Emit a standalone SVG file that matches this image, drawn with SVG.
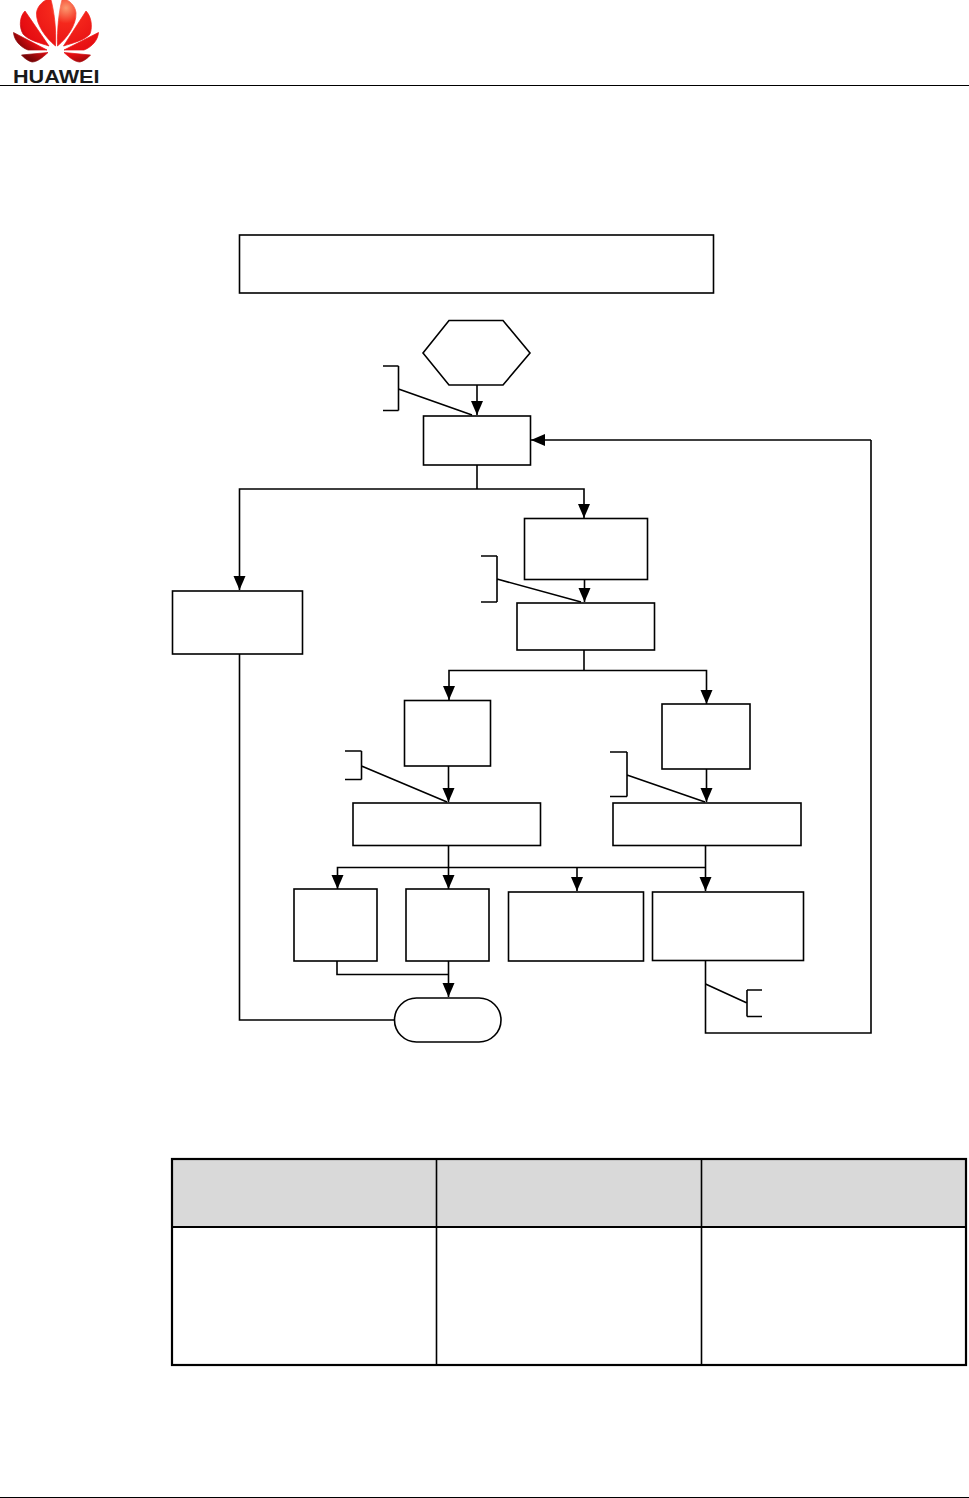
<svg xmlns="http://www.w3.org/2000/svg" width="969" height="1498" viewBox="0 0 969 1498">
<style>
.n{fill:#fff;stroke:#000;stroke-width:1.6}
.c{fill:none;stroke:#000;stroke-width:1.6}
.t{fill:none;stroke:#000;stroke-width:2.2}
.g{fill:none;stroke:#000;stroke-width:1}
.p{fill:url(#red);stroke:url(#red);stroke-width:.7}
</style>
<defs>
<marker id="a" markerUnits="userSpaceOnUse" markerWidth="16" markerHeight="14" refX="14" refY="6" orient="auto"><path d="M0,0L14,6L0,12Z" fill="#000"/></marker>
<radialGradient id="red" gradientUnits="userSpaceOnUse" cx="66" cy="8" r="62"><stop offset="0" stop-color="#fb9a70"/><stop offset=".25" stop-color="#f5281c"/><stop offset=".75" stop-color="#e60d12"/><stop offset="1" stop-color="#7a0406"/></radialGradient>
</defs>
<g id="logo">
<path class="p" d="M55.500,46C46,38 36,25 36.500,13C37,7 42,2 46,0L51,0C54,10 56.500,30 55.500,46Z"/>
<path class="p" d="M57.500,46C67,38 76.500,25 76,13C75.500,7 71,2 67,0L62,0C59,10 57,30 57.500,46Z"/>
<path class="p" d="M49,46L25,11C20,16 18.500,26 23,34C28,40 40,43 49,46Z"/>
<path class="p" d="M63.500,46L86,11C91,16 93,26 90,34C85,40 73,43 63.500,46Z"/>
<path class="p" d="M13.500,32.500L47,50L28,50C20,47 14,40 13.500,32.500Z"/>
<path class="p" d="M98.500,32.500L64,50L84,50C92,47 98,40 98.500,32.500Z"/>
<path class="p" d="M21.500,55L48,52.500C42,58 37,62 32,62C28,61 24,58 21.500,55Z"/>
<path class="p" d="M90.500,55L64,52.500C70,58 75,62 80,62C84,61 88,58 90.500,55Z"/>
<text x="13" y="83.200" font-family="Liberation Sans, Arial, sans-serif" font-weight="700" font-size="17.500" textLength="86.500" lengthAdjust="spacingAndGlyphs" fill="#1a1a1a">HUAWEI</text>
</g>
<path id="header-rule" class="g" d="M0,85.500H969"/>
<path id="footer-rule" class="g" d="M0,1497.500H969"/>
<g id="connectors">
<path class="c" marker-end="url(#a)" d="M477,385V415"/>
<path class="c" marker-end="url(#a)" d="M871,440H531"/>
<path class="c" d="M477,465V489"/>
<path class="c" marker-end="url(#a)" d="M477,489H239.500V590"/>
<path class="c" marker-end="url(#a)" d="M477,489H584V518"/>
<path class="c" marker-end="url(#a)" d="M584.500,579V602"/>
<path class="c" d="M584,650V670.500"/>
<path class="c" marker-end="url(#a)" d="M584,670.500H449V700"/>
<path class="c" marker-end="url(#a)" d="M584,670.500H706.500V704"/>
<path class="c" marker-end="url(#a)" d="M448.500,766V802"/>
<path class="c" marker-end="url(#a)" d="M706.500,769V802"/>
<path class="c" marker-end="url(#a)" d="M448.500,846V889"/>
<path class="c" marker-end="url(#a)" d="M705.500,846V891"/>
<path class="c" marker-end="url(#a)" d="M705.500,867.500H337.500V889"/>
<path class="c" marker-end="url(#a)" d="M577,867.500V891"/>
<path class="c" marker-end="url(#a)" d="M448.500,961V997"/>
<path class="c" d="M337,961V974.500H448"/>
<path class="c" d="M239.500,654V1020H395"/>
<path class="c" d="M705.500,961V1033H871V440"/>
<path class="c" d="M398.500,366V410.500M383,366H398.500M383,410.500H398.500M398.500,389L472,415"/>
<path class="c" d="M497,556V602M481,556H497M481,602H497M497,579L581,602"/>
<path class="c" d="M361.500,751V779.500M345,751H361.500M345,779.500H361.500M361.500,766L447,802"/>
<path class="c" d="M627,752V796.500M610,752H627M610,796.500H627M627,775L705,802"/>
<path class="c" d="M747,990V1016.500M747,990H762M747,1016.500H762M747,1003L705.500,984"/>
</g>
<g id="note-top"><rect class="n" x="239.500" y="235" width="474" height="58"/></g>
<g id="start"><path class="n" d="M449,320.500H503L530,353L503,385H449L423,353Z"/></g>
<g id="n1"><rect class="n" x="423.500" y="416" width="107" height="49"/></g>
<g id="n2"><rect class="n" x="524.500" y="518.500" width="123" height="61"/></g>
<g id="n3"><rect class="n" x="172.500" y="591" width="130" height="63"/></g>
<g id="n4"><rect class="n" x="517" y="603" width="137.500" height="47"/></g>
<g id="n5"><rect class="n" x="404.500" y="700.500" width="86" height="65.500"/></g>
<g id="n6"><rect class="n" x="662" y="704" width="88" height="65"/></g>
<g id="n7"><rect class="n" x="353" y="803" width="187.500" height="42.500"/></g>
<g id="n8"><rect class="n" x="613" y="803" width="188" height="42.500"/></g>
<g id="n9"><rect class="n" x="294" y="889" width="83" height="72"/></g>
<g id="n10"><rect class="n" x="406" y="889" width="83" height="72"/></g>
<g id="n11"><rect class="n" x="508.500" y="892" width="135" height="69"/></g>
<g id="n12"><rect class="n" x="652.500" y="892" width="151" height="68.500" stroke-width="2"/></g>
<g id="end"><rect class="n" x="394.500" y="998" width="106.500" height="44" rx="22" ry="22"/></g>
<g id="table">
<rect x="172" y="1159" width="794" height="68" fill="#d9d9d9"/>
<rect class="t" x="172" y="1159" width="794" height="206"/>
<path class="t" d="M172,1227H966"/>
<path class="c" d="M436.500,1159V1365M701.500,1159V1365"/>
</g>
</svg>
